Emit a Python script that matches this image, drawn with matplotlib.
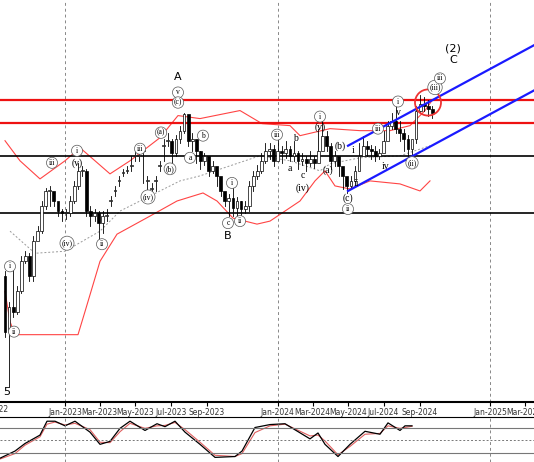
import datetime as dt

import matplotlib
matplotlib.use("Agg")
import matplotlib.pyplot as plt
from matplotlib.patches import Ellipse, Rectangle

# weekly candles, price levels (higher = up), first week 2022-09-19
START = dt.date(2022, 9, 19)
opens = [125, 70, 95, 90, 110, 140, 145, 125, 160, 170, 195, 210, 210, 200, 190, 188, 188, 200, 215, 230,
         230, 190, 185, 188, 178, 185, 200, 210, 220, 228, 230, 235, 245, 245, 250, 220, 212, 220, 235, 255,
         260, 260, 248, 262, 270, 287, 260, 262, 250, 240, 245, 230, 235, 225, 210, 200, 203, 193, 200, 192,
         195, 215, 225, 230, 240, 250, 252, 240, 250, 248, 252, 245, 248, 240, 242, 238, 242, 238, 250, 265,
         255, 240, 245, 235, 225, 215, 220, 230, 245, 255, 252, 250, 245, 248, 260, 275, 280, 272, 268, 262,
         252, 262, 290, 297, 295, 292]
closes = [70, 95, 90, 110, 140, 145, 125, 160, 170, 195, 210, 210, 200, 190, 188, 188, 200, 215, 230, 230,
          190, 185, 188, 178, 185, 185, 200, 210, 220, 228, 230, 235, 245, 245, 250, 220, 212, 220, 235, 255,
          260, 248, 262, 270, 287, 260, 262, 250, 240, 245, 230, 235, 225, 210, 200, 203, 193, 200, 192, 195,
          215, 225, 230, 240, 250, 252, 240, 250, 248, 252, 245, 248, 240, 242, 238, 242, 238, 250, 265, 255,
          240, 245, 235, 225, 215, 220, 230, 245, 255, 252, 250, 245, 248, 260, 275, 280, 272, 268, 262, 252,
          262, 290, 297, 295, 292, 288]
highs = [130, 100, 138, 115, 145, 150, 148, 165, 175, 200, 213, 215, 205, 195, 192, 192, 205, 220, 238, 235,
         232, 195, 192, 190, 190, 192, 205, 215, 225, 232, 235, 245, 252, 250, 252, 225, 218, 225, 240, 262,
         268, 262, 266, 275, 288, 275, 268, 258, 250, 248, 240, 240, 232, 215, 205, 207, 218, 204, 200, 200,
         220, 230, 236, 248, 258, 258, 256, 265, 255, 260, 255, 260, 250, 248, 245, 250, 245, 272, 285, 270,
         258, 250, 240, 230, 222, 225, 235, 258, 265, 260, 256, 255, 252, 270, 280, 288, 300, 280, 272, 266,
         260, 295, 305, 303, 300, 295]
lows = [65, 15, 85, 88, 108, 138, 120, 120, 165, 168, 192, 195, 195, 185, 180, 182, 185, 198, 212, 225,
        185, 175, 180, 160, 168, 180, 195, 205, 215, 225, 228, 230, 240, 240, 218, 208, 205, 210, 230, 240,
        255, 232, 245, 258, 268, 255, 250, 238, 232, 236, 225, 228, 215, 205, 195, 185, 185, 182, 180, 188,
        190, 210, 222, 228, 238, 242, 235, 242, 238, 243, 240, 240, 232, 236, 230, 235, 233, 245, 258, 250,
        232, 235, 225, 212, 208, 212, 222, 235, 250, 245, 242, 240, 242, 255, 270, 272, 268, 260, 250, 238,
        245, 258, 288, 290, 285, 283]

# bollinger-style bands (pixel x, price)
upper_x = [5, 20, 40, 65, 80, 95, 110, 130, 160, 178, 200, 240, 262, 290, 300, 330, 360, 390, 410, 425, 432]
upper_y = [260, 240, 222, 240, 253, 240, 227, 240, 263, 285, 282, 290, 277, 275, 265, 272, 270, 270, 275, 290, 300]
lower_x = [5, 10, 15, 50, 78, 85, 100, 117, 150, 177, 203, 217, 233, 257, 270, 300, 315, 325, 335, 350, 370, 400, 420, 430]
lower_y = [110, 80, 67, 67, 67, 90, 140, 167, 185, 200, 208, 200, 183, 177, 180, 200, 220, 230, 215, 212, 220, 217, 210, 220]
mid_x = [10, 35, 65, 100, 120, 150, 180, 200, 230, 260, 290, 320, 330, 360, 400, 430]
mid_y = [170, 148, 150, 170, 190, 205, 220, 225, 235, 245, 240, 230, 237, 243, 245, 255]

red_levels = [300, 278]
black_levels = [245, 188]
channel_upper = [(348, 255), (534, 355)]
channel_lower = [(348, 210), (534, 310)]

# (text, pixel x, price, circled)
wave_labels = [
    ("5", 7, 10, False), ("i", 10, 135, True), ("ii", 14, 70, True), ("iii", 52, 238, True),
    ("i", 77, 250, True), ("(v)", 77, 238, False), ("(iv)", 67, 158, True), ("ii", 102, 157, True),
    ("iii", 140, 252, True), ("(iv)", 148, 204, True), ("(a)", 161, 268, True), ("(b)", 170, 232, True),
    ("A", 178, 323, False), ("v", 178, 308, True), ("(c)", 178, 298, True), ("b", 203, 265, True),
    ("a", 190, 243, True), ("i", 232, 218, True), ("c", 228, 178, True), ("B", 228, 165, False),
    ("ii", 240, 180, True), ("iii", 277, 266, True), ("b", 295, 262, False), ("a", 290, 232, False),
    ("c", 303, 225, False), ("(iv)", 303, 213, False), ("i", 320, 284, True), ("(v)", 320, 273, False),
    ("(b)", 340, 255, False), ("(a)", 328, 231, False), ("i", 353, 250, False), ("iii", 378, 272, True),
    ("iv", 386, 234, False), ("ii", 357, 217, False), ("(c)", 348, 203, False), ("ii", 348, 192, True),
    ("v", 398, 288, False), ("i", 398, 299, True), ("(ii)", 412, 238, True), ("(iii)", 435, 313, True),
    ("iii", 440, 322, True), ("(2)", 453, 352, False), ("C", 453, 340, False),
]

# stochastic oscillator (pixel x, value)
stoch_x = [0, 15, 25, 40, 47, 55, 65, 75, 90, 100, 110, 120, 130, 145, 157, 165, 175, 185, 200, 215,
           235, 242, 255, 270, 285, 310, 318, 325, 338, 350, 365, 380, 388, 400, 405, 412]
stoch_k = [7, 24, 42, 62, 95, 95, 84, 95, 69, 40, 47, 78, 95, 73, 89, 82, 95, 69, 40, 9,
           11, 24, 80, 87, 89, 53, 67, 40, 11, 40, 71, 64, 91, 73, 84, 84]
stoch_d = [5, 18, 38, 58, 88, 93, 86, 90, 75, 45, 44, 70, 90, 78, 84, 85, 92, 75, 45, 14,
           11, 18, 68, 84, 88, 60, 62, 48, 15, 35, 64, 66, 84, 78, 80, 83]

PX_PER_WEEK = 4.07


def px_to_idx(px):
    return (px - 5) / PX_PER_WEEK


fig = plt.figure(figsize=(5.34, 4.62), dpi=100)
ax = fig.add_axes([0, 60 / 462, 1, 402 / 462])
osc = fig.add_axes([0, 0, 1, 45 / 462])

# main price panel
for i, (o, c, h, l) in enumerate(zip(opens, closes, highs, lows)):
    ax.plot([i, i], [l, h], color="black", lw=0.6, zorder=3)
    face = "white" if c >= o else "black"
    ax.add_patch(Rectangle((i - 0.34, min(o, c)), 0.68, max(abs(c - o), 0.8),
                           facecolor=face, edgecolor="black", lw=0.5, zorder=4))

ax.plot([px_to_idx(x) for x in upper_x], upper_y, color="#ff4444", lw=0.8)
ax.plot([px_to_idx(x) for x in lower_x], lower_y, color="#ff4444", lw=0.8)
ax.plot([px_to_idx(x) for x in mid_x], mid_y, color="#999999", lw=0.7, ls=(0, (2, 2)))

for lv in red_levels:
    ax.axhline(lv, color="#ee1111", lw=1.6, zorder=2)
for lv in black_levels:
    ax.axhline(lv, color="black", lw=1.2, zorder=2)
for (x0, y0), (x1, y1) in [channel_upper, channel_lower]:
    ax.plot([px_to_idx(x0), px_to_idx(x1)], [y0, y1], color="#1a1aff", lw=1.6, zorder=5)

ax.add_patch(Ellipse((px_to_idx(428), 298), 26 / PX_PER_WEEK, 26, fill=False,
                     edgecolor="#ee3333", lw=1.3, zorder=6))

for text, x, y, circled in wave_labels:
    kw = dict(ha="center", va="center", fontsize=7 if not circled else 5.5, family="Liberation Serif", zorder=7)
    if text in ("A", "B", "C", "5", "(2)"):
        kw.update(fontsize=8, family="DejaVu Sans")
    if circled:
        kw["bbox"] = dict(boxstyle="circle,pad=0.2", fc="white", ec="#555555", lw=0.5)
    ax.text(px_to_idx(x), y, text, **kw)

month_ticks, month_labels = [], []
for yr, mo in [(2023, 1), (2023, 3), (2023, 5), (2023, 7), (2023, 9), (2024, 1), (2024, 3),
               (2024, 5), (2024, 7), (2024, 9), (2025, 1), (2025, 3)]:
    month_ticks.append((dt.date(yr, mo, 1) - START).days / 7)
    month_labels.append(dt.date(yr, mo, 1).strftime("%b-%Y"))
for yr in (2023, 2024, 2025):
    ax.axvline((dt.date(yr, 1, 1) - START).days / 7, color="#888888", lw=0.7, ls=(0, (3, 3)), zorder=1)

ax.set_xticks(month_ticks)
ax.set_xticklabels(month_labels, fontsize=5.5, color="#333333")
ax.tick_params(axis="x", length=3, pad=1)
# partly visible first label at the left edge
ax.text(0.0, -0.018, "Sep-2022", transform=ax.transAxes, ha="right", va="center",
        fontsize=5.5, color="#333333", clip_on=False).set_position((0.016, -0.018))
ax.set_yticks([])
xlim = (px_to_idx(0), px_to_idx(534))
ax.set_xlim(*xlim)
ax.set_ylim(0, 400)
for sp in ax.spines.values():
    sp.set_visible(False)
ax.spines["bottom"].set_visible(True)
ax.spines["bottom"].set_linewidth(1.5)

# oscillator panel
osc.plot([px_to_idx(x) for x in stoch_x], stoch_d, color="#e06060", lw=0.8)
osc.plot([px_to_idx(x) for x in stoch_x], stoch_k, color="black", lw=0.9)
osc.axhline(80, color="#777777", lw=0.8)
osc.axhline(20, color="#777777", lw=0.8)
osc.axhline(50, color="#777777", lw=0.7, ls=(0, (2, 2)))
for yr in (2023, 2024, 2025):
    osc.axvline((dt.date(yr, 1, 1) - START).days / 7, color="#888888", lw=0.7, ls=(0, (3, 3)))
osc.set_xlim(*xlim)
osc.set_ylim(-2, 105)
osc.set_xticks([])
osc.set_yticks([])
for sp in osc.spines.values():
    sp.set_visible(False)
osc.spines["top"].set_visible(True)

fig.savefig("out.png", dpi=100)
